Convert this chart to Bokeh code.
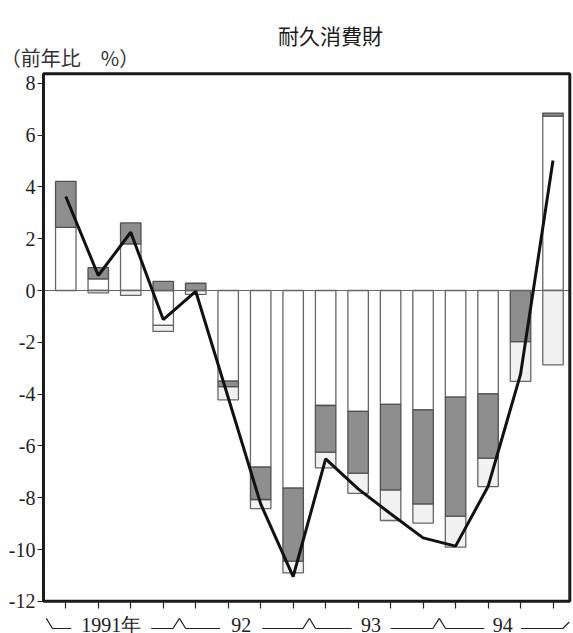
from bokeh.plotting import figure
from bokeh.models import LinearAxis, FixedTicker
from bokeh.core.properties import value
from bokeh.embed import file_html
from bokeh.resources import INLINE

# ---------------- data ----------------
quarters = ["1991Q1", "1991Q2", "1991Q3", "1991Q4",
            "1992Q1", "1992Q2", "1992Q3", "1992Q4",
            "1993Q1", "1993Q2", "1993Q3", "1993Q4",
            "1994Q1", "1994Q2", "1994Q3", "1994Q4"]
white_part = [2.44, 0.45, 1.80, -1.35, -0.15, -3.50, -6.82, -7.63,
              -4.44, -4.67, -4.40, -4.61, -4.12, -3.99, 0.00, 6.73]
gray_part = [1.77, 0.43, 0.81, 0.35, 0.28, -0.21, -1.25, -2.82,
             -1.80, -2.38, -3.30, -3.63, -4.59, -2.48, -1.97, 0.12]
light_part = [0.00, -0.09, -0.19, -0.23, 0.00, -0.51, -0.35, -0.45,
              -0.61, -0.78, -1.18, -0.74, -1.20, -1.10, -1.54, -2.87]
total_line = [3.63, 0.58, 2.25, -1.12, -0.03, -4.13, -8.24, -11.05,
              -6.50, -7.66, -8.62, -9.55, -9.87, -7.57, -3.24, 5.02]
year_labels = ["1991年", "92", "93", "94"]
y_ticks = [-12, -10, -8, -6, -4, -2, 0, 2, 4, 6, 8]
y_tick_labels = {t: str(t) for t in y_ticks}

# ---------------- layout parameters ----------------
W, H = 573, 633
X_LO, X_HI = -2.010, 15.631
Y_LO, Y_HI = -13.243, 11.197
BOX_L, BOX_R, BOX_B, BOX_T = -0.687, 15.517, -12.0, 8.37
BAR_W = 0.63
SERIF = "Times New Roman"

xs = list(range(len(quarters)))

# stack components: positives upward, negatives downward
segs = {"white": ([], [], [], []), "gray": ([], [], [], []), "light": ([], [], [], [])}
for i in xs:
    pos, neg = 0.0, 0.0
    for name, arr in (("white", white_part), ("gray", gray_part), ("light", light_part)):
        v = arr[i]
        if v == 0:
            continue
        if v > 0:
            b, t = pos, pos + v
            pos = t
        else:
            t, b = neg, neg + v
            neg = b
        L, R, B, T = segs[name]
        L.append(i - BAR_W / 2); R.append(i + BAR_W / 2); B.append(b); T.append(t)

p = figure(width=W, height=H, x_range=(X_LO, X_HI), y_range=(Y_LO, Y_HI),
           x_axis_type=None, y_axis_type=None, output_backend="svg",
           toolbar_location=None, min_border=0)
p.outline_line_color = None
p.background_fill_color = "white"

styles = {
    "white": dict(fill_color="white", line_color="#666666"),
    "light": dict(fill_color="#f1f1f1", line_color="#666666"),
    "gray": dict(fill_color="#8e8e8e", line_color="#505050"),
}
for name in ("white", "light", "gray"):
    L, R, B, T = segs[name]
    p.quad(left=L, right=R, bottom=B, top=T, line_width=1.3, **styles[name])

# zero line
p.segment(x0=[BOX_L], x1=[BOX_R], y0=[0], y1=[0], line_color="#666666", line_width=1)

# total line
p.line(xs, total_line, line_color="#111111", line_width=3)

# frame box
p.quad(left=[BOX_L], right=[BOX_R], bottom=[BOX_B], top=[BOX_T],
       fill_color=None, line_color="#1a1a1a", line_width=3)

# y axis
yax = LinearAxis(fixed_location=BOX_L, ticker=FixedTicker(ticks=y_ticks))
yax.axis_line_color = None
yax.major_tick_out = 6
yax.major_tick_in = 0
yax.minor_tick_line_color = None
yax.major_tick_line_color = "#222222"
yax.major_tick_line_width = 1.2
yax.major_label_standoff = 2
yax.major_label_overrides = y_tick_labels
yax.major_label_text_font = SERIF
yax.major_label_text_font_size = "20px"
yax.major_label_text_color = "#222222"
p.add_layout(yax, "left")

# x axis (ticks only)
xax = LinearAxis(fixed_location=BOX_B, ticker=FixedTicker(ticks=xs))
xax.axis_line_color = None
xax.major_tick_out = 7
xax.major_tick_in = 0
xax.minor_tick_line_color = None
xax.major_tick_line_color = "#222222"
xax.major_tick_line_width = 1.2
xax.major_label_overrides = {i: "" for i in xs}
p.add_layout(xax, "below")

# year brackets below axis
y_line = -13.05
y_peak = -12.66
year_centers = [1.4, 5.4, 9.4, 13.45]
gaps = [1.23, 0.65, 0.6, 0.56]
bounds = [-0.6, 3.5, 7.5, 11.5, 15.5]
bx, by = [], []
for k in range(4):
    left_b = bounds[k]
    right_b = bounds[k + 1]
    bx.append([left_b, left_b + 0.19, year_centers[k] - gaps[k]])
    by.append([y_peak, y_line, y_line])
    if k < 3:
        bx.append([year_centers[k] + gaps[k], right_b - 0.2, right_b])
        by.append([y_line, y_line, y_peak])
    else:
        bx.append([year_centers[k] + gaps[k], 15.3, 15.5])
        by.append([y_line, y_line, -12.8])
p.multi_line(bx, by, line_color="#222222", line_width=1.2)

p.text(x=year_centers, y=[-12.9] * 4, text=year_labels,
       text_font=value(SERIF), text_font_size="20px",
       text_align="center", text_baseline="middle", text_color="#222222")

# titles
p.text(x=[8.15], y=[9.88], text=["耐久消費財"], text_font=value("Noto Sans CJK JP"),
       text_font_size="21px", text_align="center", text_baseline="middle",
       text_color="#1a1a1a")
p.text(x=[-2.0], y=[8.98], text=["（前年比　%）"], text_font=value("Noto Sans CJK JP"),
       text_font_size="20px", text_align="left", text_baseline="middle",
       text_color="#333333")

open("out.html", "w").write(file_html(p, INLINE))
